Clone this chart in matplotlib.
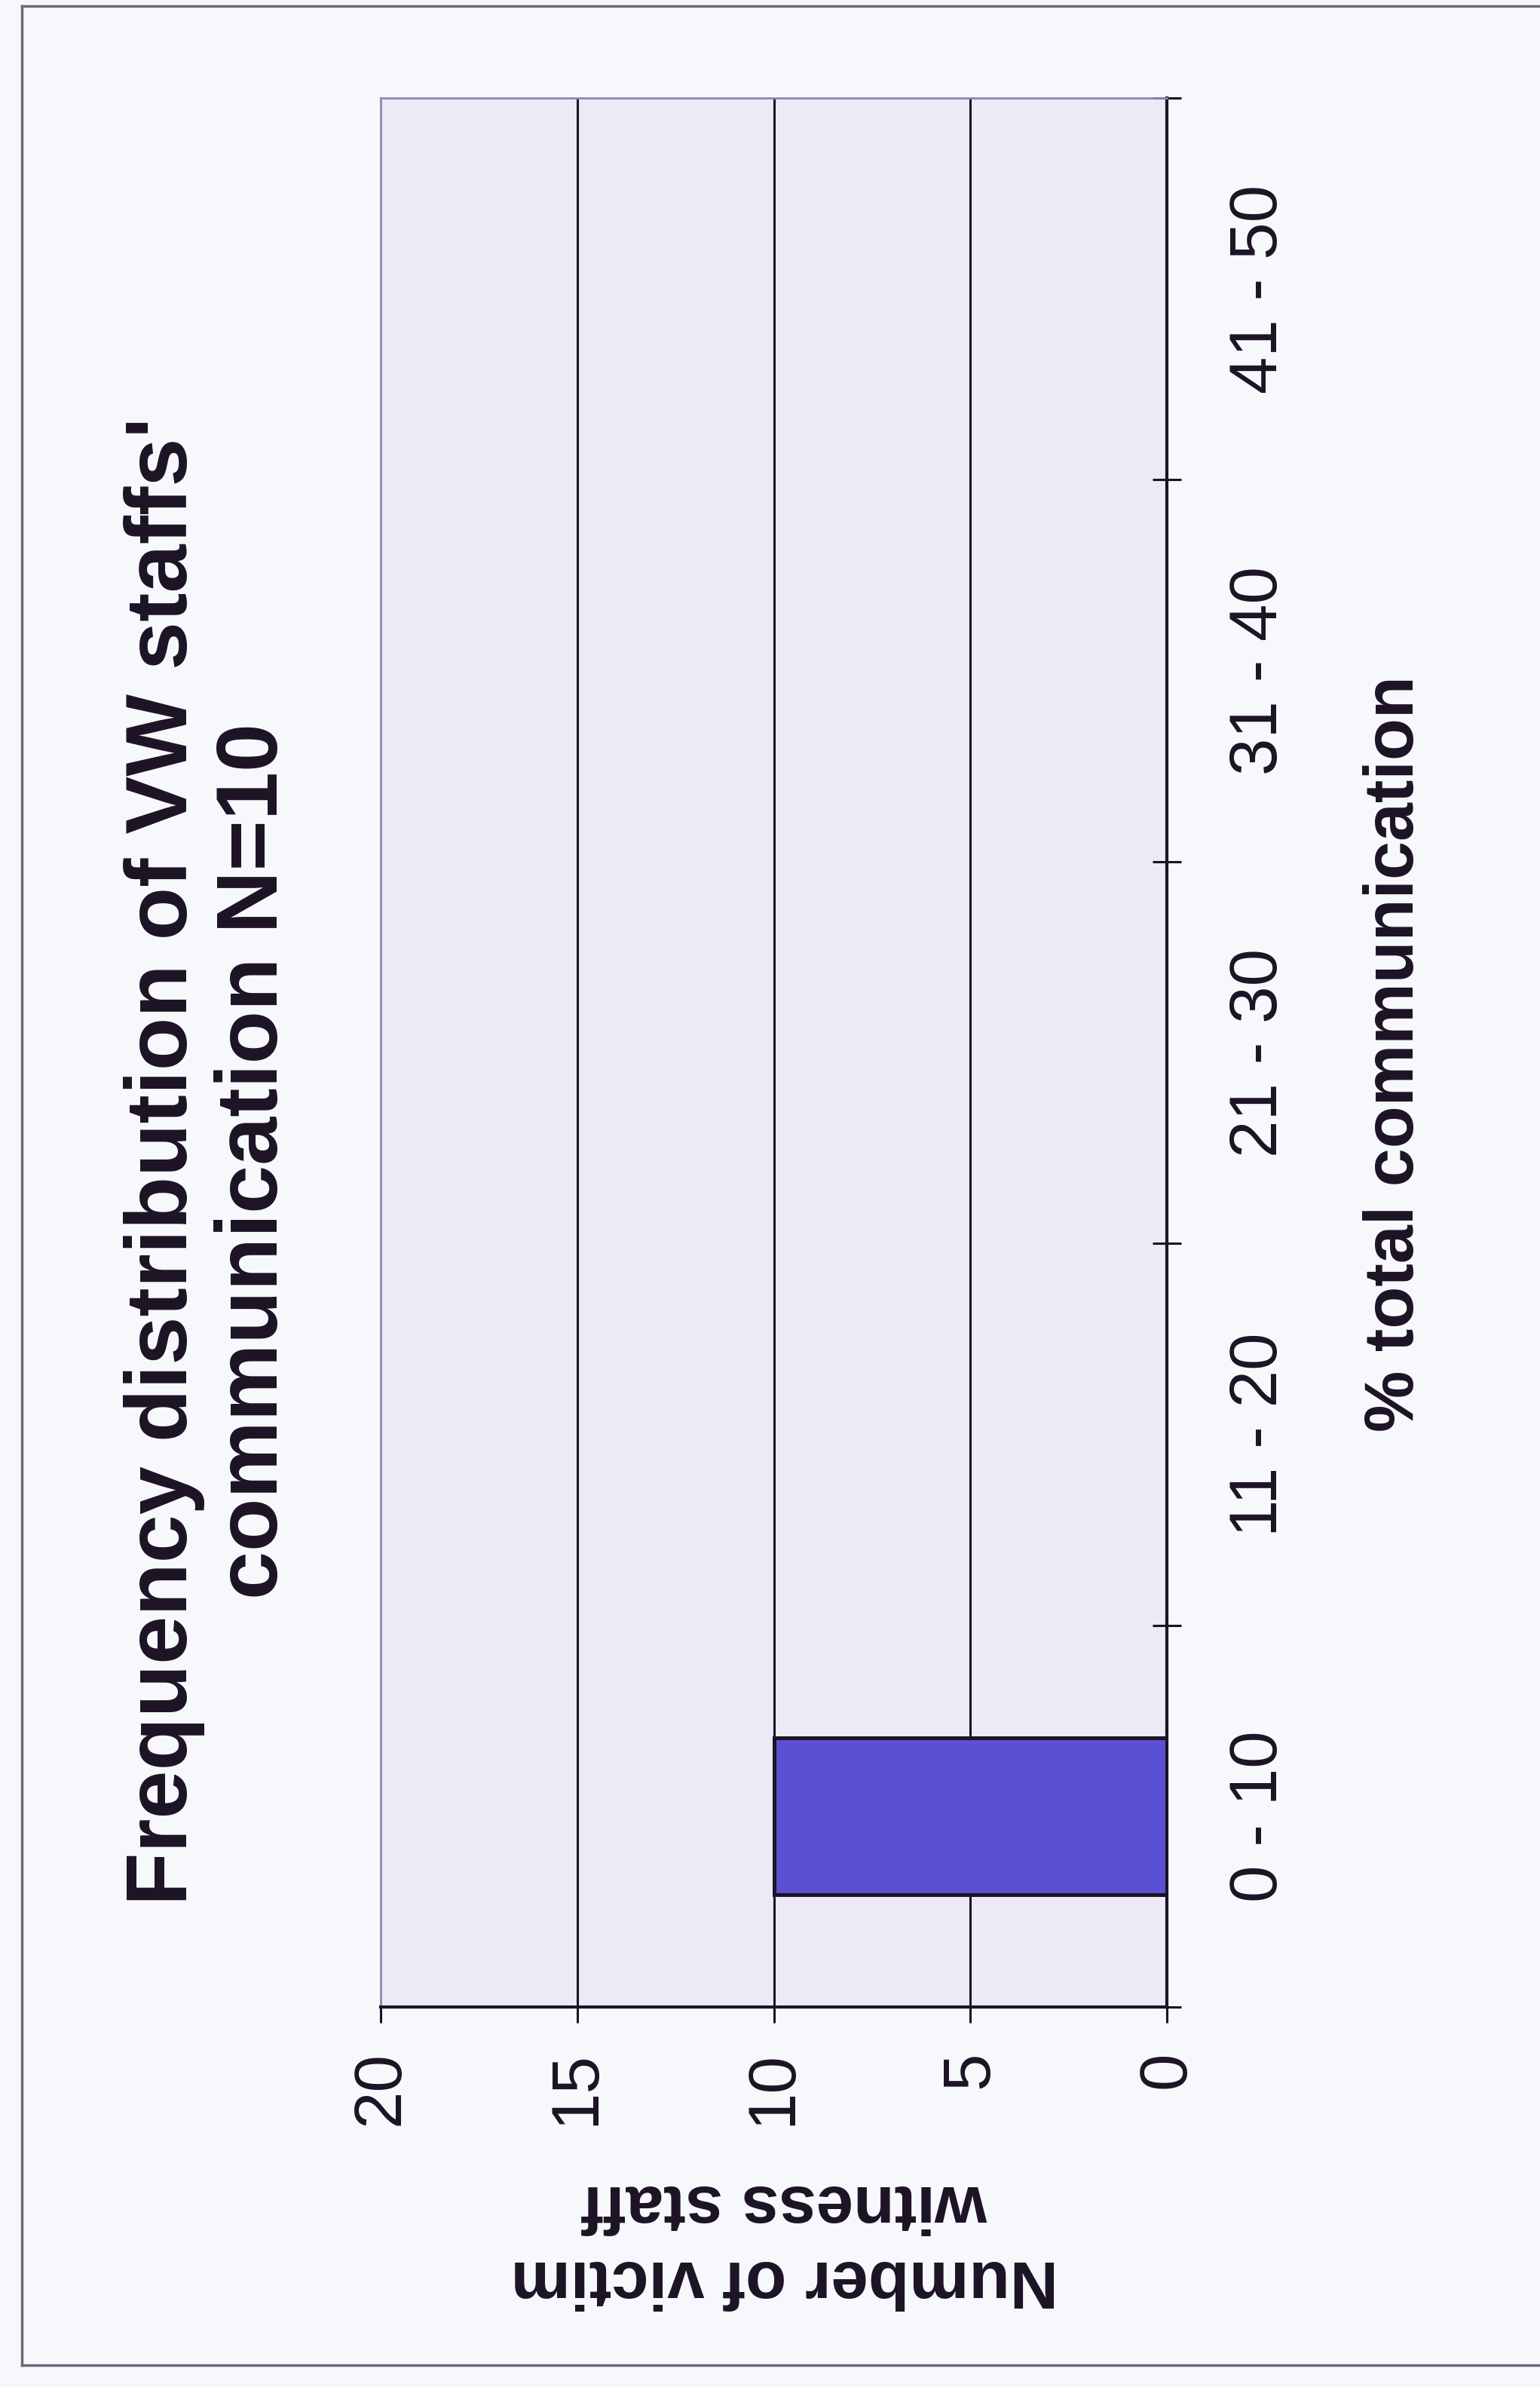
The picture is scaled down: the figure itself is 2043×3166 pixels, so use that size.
"""Frequency distribution of VW staffs' communication, drawn turned on its side."""
import matplotlib
matplotlib.use("Agg")
import matplotlib.pyplot as plt
import numpy as np
from matplotlib.lines import Line2D

plt.rcParams["font.family"] = ["Liberation Sans", "DejaVu Sans"]

categories = ["0 - 10", "11 - 20", "21 - 30", "31 - 40", "41 - 50"]
staff_counts = [10, 0, 0, 0, 0]
value_ticks = [0, 5, 10, 15, 20]

title = "Frequency distribution of VW staffs'\ncommunication N=10"
cat_label = "% total communication"
value_label = "Number of victim\nwitness staff"

ink = "#1c1424"
bar_color = "#5b4fd2"
plot_bg = "#ebeaf6"
page_bg = "#f7f8fc"
edge_grey = "#8a8aae"

W, H = 2043, 3166
fig = plt.figure(figsize=(W / 100, H / 100), dpi=100)
fig.patch.set_facecolor(page_bg)

# plot area in pixel coordinates, category axis runs bottom to top
left, right, top, bottom = 505, 1548, 130, 2662
ax = fig.add_axes([left / W, 1 - bottom / H, (right - left) / W, (bottom - top) / H])
ax.set_facecolor(plot_bg)

pos = np.arange(len(categories))
ax.barh(pos, staff_counts, height=0.41, color=bar_color, edgecolor=ink,
        linewidth=3.6, zorder=3)

ax.set_xlim(20, 0)
ax.set_ylim(-0.5, len(categories) - 0.5)

for v in value_ticks[1:-1]:
    ax.axvline(v, color=ink, lw=2.2, zorder=2)

for side in ("top", "left"):
    ax.spines[side].set_color(edge_grey)
    ax.spines[side].set_linewidth(2.0)
for side in ("right", "bottom"):
    ax.spines[side].set_color(ink)
    ax.spines[side].set_linewidth(3.0)

# value axis along the bottom
ax.set_xticks(value_ticks)
ax.set_xticklabels([str(v) for v in value_ticks], rotation=90, fontsize=64,
                   color=ink, va="top", ha="center")
ax.tick_params(axis="x", direction="out", length=15, width=2.2, pad=27,
               colors=ink)

# category axis on the right, ticks at bin edges, labels at centres
ax.yaxis.tick_right()
ax.set_yticks(np.arange(-0.5, len(categories), 1.0))
ax.set_yticklabels([])
ax.set_yticks(pos, minor=True)
ax.set_yticklabels(categories, minor=True, rotation=90, fontsize=64,
                   color=ink, va="center", ha="left")
ax.tick_params(axis="y", which="major", direction="inout", length=27,
               width=2.2, colors=ink)
ax.tick_params(axis="y", which="minor", length=0, pad=58, colors=ink)

fig.text(1851 / W, 1 - 1398 / H, cat_label, rotation=90, fontsize=66,
         fontweight="bold", color=ink, ha="center", va="center")
fig.text(1041 / W, 1 - 2972 / H, value_label, rotation=180, fontsize=64,
         fontweight="bold", color=ink, ha="center", va="center",
         multialignment="center", linespacing=1.25)
fig.text(278 / W, 1 - 1540 / H, title, rotation=90, fontsize=83,
         fontweight="bold", color=ink, ha="center", va="center",
         multialignment="center", linespacing=1.15)

# outer chart frame
frame_kw = dict(color="#6c6a7c", lw=2.5, transform=fig.transFigure)
fig.add_artist(Line2D([29 / W, 29 / W], [1 - 8 / H, 1 - 3137 / H], **frame_kw))
fig.add_artist(Line2D([29 / W, 1.0], [1 - 8 / H, 1 - 8 / H], **frame_kw))
fig.add_artist(Line2D([29 / W, 1.0], [1 - 3137 / H, 1 - 3137 / H], **frame_kw))

fig.savefig("out.png", dpi=100, facecolor=fig.get_facecolor())
